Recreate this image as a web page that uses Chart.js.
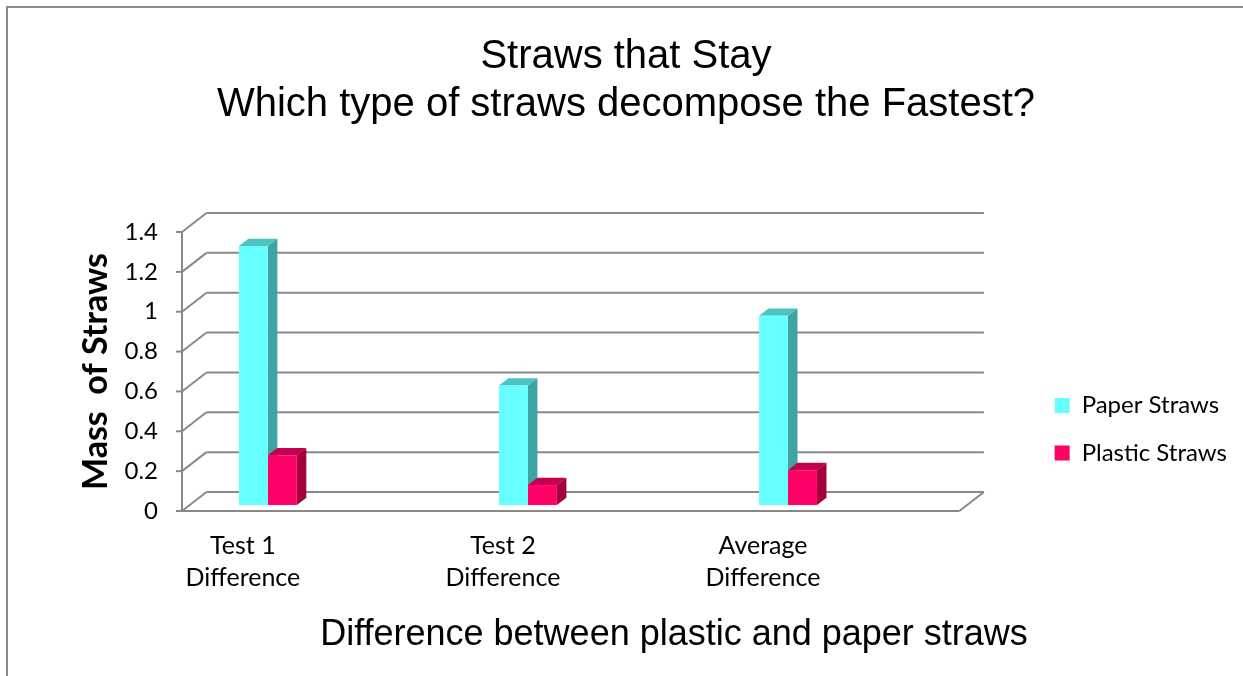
<!DOCTYPE html>
<html>
<head>
<meta charset="utf-8">
<title>Straws that Stay</title>
<script src="https://cdn.jsdelivr.net/npm/chart.js@4.4.1/dist/chart.umd.min.js"></script>
<style>
  html, body { margin: 0; padding: 0; background: #fff; }
  #wrap { width: 1243px; height: 676px; position: relative; }
  canvas { display: block; }
</style>
</head>
<body>
<div id="wrap"><canvas id="chart" width="1243" height="676"></canvas></div>
<script>
// ---- data ----
const CATEGORIES = [['Test 1', 'Difference'], ['Test 2', 'Difference'], ['Average', 'Difference']];
const SERIES_NAMES = ['Paper Straws', 'Plastic Straws'];
const PAPER = [1.3, 0.6, 0.95];
const PLASTIC = [0.25, 0.1, 0.175];
const Y_TICKS = [0, 0.2, 0.4, 0.6, 0.8, 1, 1.2, 1.4];

const TITLE_LINES = ['Straws that Stay', 'Which type of straws decompose the Fastest?'];
const Y_TITLE = 'Mass  of Straws';
const X_TITLE = 'Difference between plastic and paper straws';

// ---- look ----
const FRONT = ['#66FFFF', '#FF0066'];
const TOP = ['#4DC4C4', '#C4004E'];
const SIDE = ['#40A3A3', '#A3003F'];
const GRID = '#898989';

// category-axis range (the floor is skewed, so categories sit left of centre)
const X_MIN = -0.234;
const X_MAX = 3.031;
const FLOOR_END = 2.755;

const WALL_DEPTH = { dx: 24.5, dy: -19 };   // front plane -> back wall
const BAR_SHIFT = { dx: 25, dy: -6 };       // front plane -> plane of the bar faces
const BAR_DEPTH = { dx: 9.5, dy: -7.3 };    // thickness of each column

const PAD_LEFT = 15;       // page margin left of the value axis
const AXIS_EDGE = 182;     // x of the front value axis

function line(ctx, x1, y1, x2, y2) {
  ctx.beginPath();
  ctx.moveTo(x1, y1);
  ctx.lineTo(x2, y2);
  ctx.stroke();
}
function poly(ctx, pts, fill) {
  ctx.beginPath();
  ctx.moveTo(pts[0][0], pts[0][1]);
  for (let i = 1; i < pts.length; i++) ctx.lineTo(pts[i][0], pts[i][1]);
  ctx.closePath();
  ctx.fillStyle = fill;
  ctx.fill();
}

const frame3d = {
  id: 'frame3d',
  beforeDraw(chart) {
    const { ctx, width, height } = chart;
    ctx.save();
    ctx.fillStyle = '#fff';
    ctx.fillRect(0, 0, width, height);
    ctx.strokeStyle = '#8a8a8a';
    ctx.lineWidth = 2;
    ctx.beginPath();
    ctx.moveTo(7, height + 2);
    ctx.lineTo(7, 7);
    ctx.lineTo(width + 2, 7);
    ctx.stroke();
    ctx.restore();
  },
  beforeDatasetsDraw(chart) {
    const { ctx, chartArea, scales: { x, y } } = chart;
    const L = chartArea.left;
    const R = x.getPixelForValue(FLOOR_END);
    const y0 = y.getPixelForValue(0);
    const yTop = y.getPixelForValue(y.max);
    const { dx, dy } = WALL_DEPTH;

    // walls and floor
    ctx.save();
    ctx.strokeStyle = GRID;
    ctx.lineWidth = 2;
    y.ticks.forEach(t => {
      const py = y.getPixelForValue(t.value);
      line(ctx, L, py, L + dx, py + dy);
      line(ctx, L + dx, py + dy, R + dx, py + dy);
      line(ctx, L - 6, py, L, py);
    });
    line(ctx, L, y0 + 1, L, yTop - 1);
    line(ctx, L, y0, R, y0);
    line(ctx, R, y0, R + dx, y0 + dy);
    ctx.restore();

    // columns: tops and right-hand sides, front faces follow from Chart.js
    ctx.save();
    ctx.translate(BAR_SHIFT.dx, BAR_SHIFT.dy);
    const bd = BAR_DEPTH;
    chart.data.datasets.forEach((ds, di) => {
      const meta = chart.getDatasetMeta(di);
      meta.data.forEach(el => {
        const p = el.getProps(['x', 'y', 'base', 'width'], true);
        const l = p.x - p.width / 2, r = p.x + p.width / 2;
        poly(ctx, [[l, p.y], [r, p.y], [r + bd.dx, p.y + bd.dy], [l + bd.dx, p.y + bd.dy]], TOP[di]);
        poly(ctx, [[r, p.y], [r + bd.dx, p.y + bd.dy], [r + bd.dx, p.base + bd.dy], [r, p.base]], SIDE[di]);
      });
    });
  },
  afterDatasetsDraw(chart) {
    chart.ctx.restore();
  },
  afterDraw(chart) {
    const { ctx } = chart;
    ctx.save();
    ctx.fillStyle = '#000';
    ctx.font = '36px "Liberation Sans"';
    ctx.textAlign = 'center';
    ctx.textBaseline = 'middle';
    ctx.fillText(X_TITLE, 674, 635);
    ctx.restore();
  }
};

new Chart(document.getElementById('chart'), {
  type: 'bar',
  data: {
    datasets: [
      {
        label: SERIES_NAMES[0],
        data: PAPER.map((v, i) => ({ x: i, y: v })),
        backgroundColor: FRONT[0],
        borderWidth: 0,
        categoryPercentage: 0.2227,
        barPercentage: 1,
        clip: false
      },
      {
        label: SERIES_NAMES[1],
        data: PLASTIC.map((v, i) => ({ x: i, y: v })),
        backgroundColor: FRONT[1],
        borderWidth: 0,
        categoryPercentage: 0.2227,
        barPercentage: 1,
        clip: false
      }
    ]
  },
  options: {
    responsive: false,
    animation: false,
    devicePixelRatio: 1,
    layout: { padding: { left: PAD_LEFT, right: 6, top: 0, bottom: 0 } },
    plugins: {
      title: {
        display: true,
        text: TITLE_LINES,
        color: '#000',
        font: { family: '"Liberation Sans"', size: 40, weight: 'normal', lineHeight: 1.2 },
        padding: { top: 33, bottom: 103 }
      },
      legend: {
        position: 'right',
        align: 'start',
        title: { display: true, text: '', font: { size: 10 }, padding: { top: 0, bottom: 358 } },
        labels: {
          color: '#000',
          font: { family: 'Lato', size: 24 },
          boxWidth: 15,
          boxHeight: 15,
          padding: 23.5
        }
      },
      tooltip: { enabled: false }
    },
    scales: {
      x: {
        type: 'linear',
        offset: false,
        min: X_MIN,
        max: X_MAX,
        grid: { display: false, drawTicks: false },
        border: { display: false },
        afterBuildTicks(scale) {
          scale.ticks = CATEGORIES.map((_, i) => ({ value: i }));
        },
        afterFit(scale) { scale.height = 165; },
        ticks: {
          callback: v => CATEGORIES[v],
          color: '#000',
          font: { family: 'Lato', size: 25, lineHeight: 1.28 },
          padding: 19,
          maxRotation: 0,
          autoSkip: false
        }
      },
      y: {
        min: 0,
        max: 1.4,
        grid: { display: false, drawTicks: false },
        border: { display: false },
        afterBuildTicks(scale) {
          scale.ticks = Y_TICKS.map(v => ({ value: v }));
        },
        afterFit(scale) { scale.width = AXIS_EDGE - PAD_LEFT; },
        ticks: {
          callback: v => String(v),
          color: '#000',
          font: { family: 'Lato', size: 24 },
          padding: 24
        },
        title: {
          display: true,
          text: Y_TITLE,
          color: '#000',
          font: { family: 'Lato', size: 34, weight: 'bold' },
          padding: { top: 76 - PAD_LEFT, bottom: 0 }
        }
      }
    }
  },
  plugins: [frame3d]
});
</script>
</body>
</html>
